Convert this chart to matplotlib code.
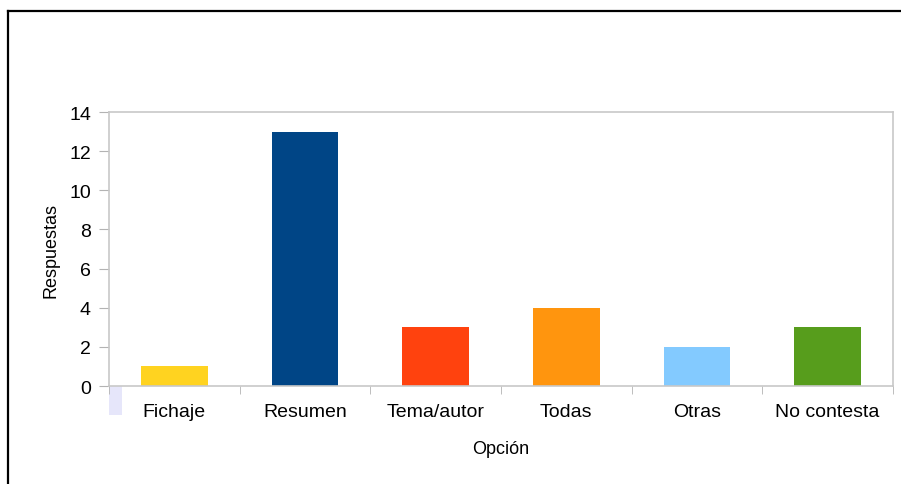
import numpy as np
import matplotlib
matplotlib.use("Agg")
import matplotlib.pyplot as plt
from matplotlib.patches import Rectangle
from matplotlib.lines import Line2D

opciones = ["Fichaje", "Resumen", "Tema/autor", "Todas", "Otras", "No contesta"]
respuestas = [1, 13, 3, 4, 2, 3]
colores = ["#FFD320", "#004586", "#FF420E", "#FF950E", "#83CAFF", "#579D1C"]

plt.rcParams["font.family"] = ["Liberation Sans", "DejaVu Sans"]

W, H = 901, 485
fig = plt.figure(figsize=(W / 100, H / 100), dpi=100)
ax = fig.add_axes([109 / W, 1 - 387 / H, (893 - 109) / W, (387 - 113) / H])

x = np.arange(len(opciones))
ax.bar(x, respuestas, width=0.51, color=colores, edgecolor="none")

ax.set_xlim(-0.5, len(opciones) - 0.5)
ax.set_ylim(0, 14)
ax.set_yticks(range(0, 15, 2))
ax.set_xticks(x)
ax.set_xticklabels(opciones)
ax.set_xticks(np.arange(-0.5, len(opciones), 1), minor=True)

ax.tick_params(axis="y", length=7, color="#b3b3b3", labelsize=14, pad=6)
ax.tick_params(axis="x", which="major", length=0, labelsize=14, pad=12)
ax.tick_params(axis="x", which="minor", length=6, color="#b3b3b3")
for s in ax.spines.values():
    s.set_color("#c8c8c8")
    s.set_linewidth(1.2)

ax.set_ylabel("Respuestas", fontsize=13, labelpad=7)
ax.set_xlabel("Opción", fontsize=13, labelpad=15)

# small lavender block under the origin
ax.add_patch(Rectangle((0, 0), 13 / 784, -29 / 274, transform=ax.transAxes,
                       facecolor="#E6E6FA", edgecolor="none", clip_on=False))

# black frame (left and top edges)
fig.add_artist(Line2D([7.5 / W, 7.5 / W], [0, 1 - 12 / H], color="black", lw=1.6))
fig.add_artist(Line2D([7.5 / W, 1], [1 - 12 / H, 1 - 12 / H], color="black", lw=1.6))

fig.savefig("out.png", dpi=100)
